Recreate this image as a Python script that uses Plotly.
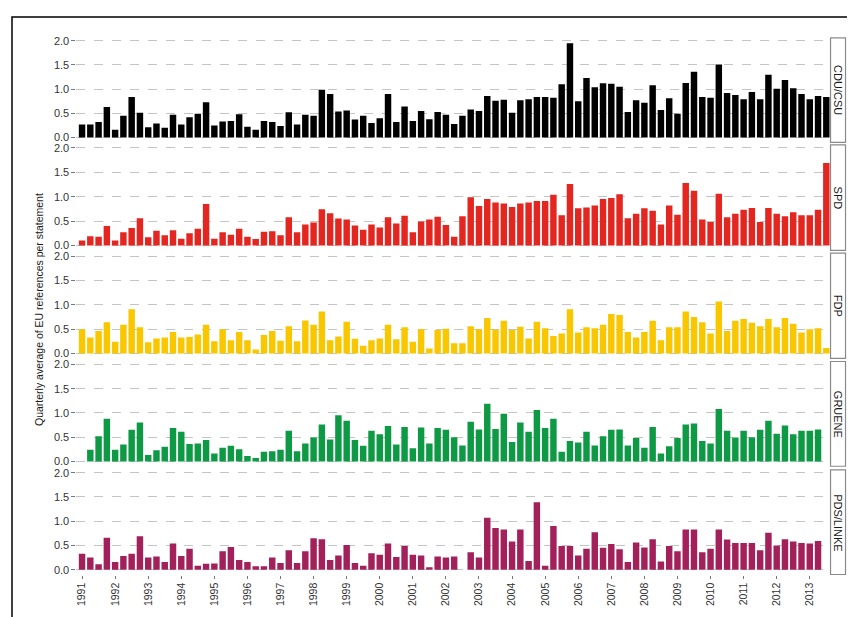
import plotly.graph_objects as go

years = list(range(1991, 2014))
quarters = [f"{y} Q{q}" for y in years for q in range(1, 5)][:91]  # 1991 Q1 .. 2013 Q3

parties = ["CDU/CSU", "SPD", "FDP", "GRUENE", "PDS/LINKE"]
colors = ["#000000", "#e3261f", "#f8c700", "#0e9a45", "#a3215a"]

cdu = [0.27, 0.27, 0.32, 0.63, 0.16, 0.45, 0.84, 0.51, 0.21, 0.29,
       0.20, 0.47, 0.27, 0.42, 0.49, 0.73, 0.25, 0.33, 0.34, 0.48,
       0.22, 0.16, 0.34, 0.32, 0.24, 0.52, 0.27, 0.47, 0.45, 0.99,
       0.90, 0.54, 0.56, 0.37, 0.45, 0.30, 0.40, 0.90, 0.32, 0.64,
       0.34, 0.55, 0.38, 0.53, 0.47, 0.28, 0.45, 0.58, 0.55, 0.86,
       0.76, 0.78, 0.51, 0.77, 0.79, 0.84, 0.84, 0.82, 1.10, 1.95,
       0.75, 1.23, 1.04, 1.12, 1.11, 1.05, 0.53, 0.77, 0.72, 1.08,
       0.57, 0.81, 0.49, 1.13, 1.36, 0.84, 0.82, 1.51, 0.92, 0.88,
       0.79, 0.94, 0.79, 1.30, 1.01, 1.19, 1.02, 0.90, 0.79, 0.86,
       0.84]

spd = [0.10, 0.19, 0.18, 0.40, 0.10, 0.27, 0.36, 0.56, 0.17, 0.30,
       0.21, 0.31, 0.14, 0.25, 0.34, 0.85, 0.14, 0.27, 0.22, 0.34,
       0.18, 0.13, 0.28, 0.29, 0.21, 0.58, 0.27, 0.43, 0.47, 0.74,
       0.66, 0.55, 0.53, 0.41, 0.32, 0.43, 0.37, 0.58, 0.45, 0.61,
       0.27, 0.49, 0.53, 0.59, 0.42, 0.18, 0.60, 0.99, 0.81, 0.95,
       0.88, 0.86, 0.79, 0.86, 0.88, 0.91, 0.91, 1.04, 0.62, 1.26,
       0.76, 0.78, 0.82, 0.95, 0.97, 1.05, 0.56, 0.65, 0.76, 0.71,
       0.43, 0.82, 0.63, 1.28, 1.12, 0.53, 0.48, 1.06, 0.58, 0.65,
       0.73, 0.77, 0.48, 0.77, 0.65, 0.60, 0.68, 0.62, 0.62, 0.73,
       1.69]

fdp = [0.50, 0.33, 0.46, 0.64, 0.24, 0.59, 0.91, 0.54, 0.23, 0.31,
       0.33, 0.44, 0.33, 0.34, 0.39, 0.59, 0.25, 0.50, 0.27, 0.44,
       0.27, 0.08, 0.38, 0.46, 0.26, 0.56, 0.25, 0.68, 0.59, 0.86,
       0.27, 0.35, 0.65, 0.30, 0.16, 0.27, 0.31, 0.59, 0.29, 0.54,
       0.24, 0.50, 0.10, 0.48, 0.51, 0.21, 0.21, 0.56, 0.50, 0.73,
       0.49, 0.67, 0.48, 0.55, 0.31, 0.65, 0.52, 0.36, 0.41, 0.91,
       0.43, 0.54, 0.52, 0.59, 0.81, 0.79, 0.44, 0.33, 0.44, 0.67,
       0.27, 0.54, 0.54, 0.86, 0.75, 0.64, 0.41, 1.07, 0.46, 0.67,
       0.71, 0.63, 0.56, 0.71, 0.54, 0.73, 0.61, 0.43, 0.50, 0.52,
       0.11]

gruene = [None, 0.24, 0.52, 0.88, 0.24, 0.35, 0.65, 0.80, 0.13, 0.23,
          0.30, 0.69, 0.61, 0.36, 0.37, 0.44, 0.16, 0.28, 0.32, 0.25,
          0.11, 0.07, 0.20, 0.21, 0.24, 0.63, 0.21, 0.37, 0.49, 0.76,
          0.45, 0.95, 0.84, 0.44, 0.32, 0.63, 0.56, 0.73, 0.35, 0.71,
          0.27, 0.70, 0.37, 0.69, 0.65, 0.50, 0.33, 0.82, 0.66, 1.19,
          0.67, 0.98, 0.40, 0.80, 0.61, 1.06, 0.69, 0.88, 0.20, 0.42,
          0.39, 0.61, 0.33, 0.52, 0.65, 0.66, 0.33, 0.48, 0.28, 0.71,
          0.16, 0.31, 0.48, 0.76, 0.78, 0.42, 0.37, 1.08, 0.63, 0.49,
          0.63, 0.50, 0.65, 0.84, 0.57, 0.74, 0.56, 0.63, 0.63, 0.66,
          None]

pds = [0.33, 0.25, 0.11, 0.66, 0.16, 0.28, 0.33, 0.69, 0.25, 0.27,
       0.16, 0.54, 0.28, 0.43, 0.08, 0.12, 0.13, 0.38, 0.47, 0.20,
       0.16, 0.07, 0.07, 0.25, 0.14, 0.40, 0.14, 0.38, 0.65, 0.63,
       0.20, 0.29, 0.51, 0.14, 0.08, 0.34, 0.31, 0.54, 0.26, 0.49,
       0.31, 0.29, 0.05, 0.27, 0.25, 0.27, None, 0.36, 0.25, 1.07,
       0.86, 0.83, 0.58, 0.83, 0.18, 1.39, 0.08, 0.90, 0.49, 0.49,
       0.29, 0.43, 0.77, 0.45, 0.53, 0.42, 0.16, 0.56, 0.46, 0.63,
       0.17, 0.49, 0.38, 0.83, 0.83, 0.36, 0.43, 0.83, 0.62, 0.55,
       0.55, 0.55, 0.40, 0.76, 0.50, 0.63, 0.58, 0.55, 0.54, 0.59,
       None]

series = [cdu, spd, fdp, gruene, pds]
y_ticks = [0.0, 0.5, 1.0, 1.5, 2.0]
y_tick_text = ["0.0", "0.5", "1.0", "1.5", "2.0"]
year_tickvals = [f"{y} Q1" for y in years]
year_ticktext = [str(y) for y in years]

W, H = 855, 617
FONT = "Liberation Sans, Arial, sans-serif"

# panel vertical extents in pixels (top, bottom)
panels_px = [(27.1, 132.2), (134.8, 240.9), (243.8, 349.6), (352.8, 458.2), (461.8, 567.2)]
x_left_px, x_right_px = 67.5, 822.0
strip_x0, strip_x1 = 822.5, 837.5

fig = go.Figure()
layout = dict(
    width=W, height=H,
    margin=dict(l=0, r=0, t=0, b=0),
    paper_bgcolor="white", plot_bgcolor="white",
    showlegend=False, bargap=0.22,
    font=dict(family=FONT, color="#333333"),
)

shapes = []
annotations = []
for k, (name, vals, col) in enumerate(zip(parties, series, colors)):
    ax = "" if k == 0 else str(k + 1)
    fig.add_trace(go.Bar(
        x=quarters, y=vals, name=name,
        marker=dict(color=col, line=dict(width=0)),
        xaxis="x", yaxis="y" + ax,
    ))
    top, bot = panels_px[k]
    dom = [1 - bot / H, 1 - top / H]
    layout["yaxis" + ax] = dict(
        domain=dom, range=[-0.1, 2.06], anchor="x",
        tickvals=y_ticks, ticktext=y_tick_text,
        showgrid=True, gridcolor="#c4c4c4", griddash="dash", gridwidth=1,
        zeroline=False, showline=False,
        ticks="outside", ticklen=4, tickcolor="#777777",
        tickfont=dict(size=11, color="#333333", family=FONT),
        fixedrange=True,
    )
    shapes.append(dict(type="rect", xref="paper", yref="paper",
                       x0=strip_x0 / W, x1=strip_x1 / W, y0=dom[0], y1=dom[1],
                       line=dict(color="#8a8a8a", width=1.2), fillcolor="white"))
    annotations.append(dict(text=name, xref="paper", yref="paper",
                            x=(strip_x0 + strip_x1) / 2 / W, y=(dom[0] + dom[1]) / 2,
                            showarrow=False, textangle=90,
                            font=dict(size=11, color="#1a1a1a", family=FONT),
                            xanchor="center", yanchor="middle"))

layout["xaxis"] = dict(
    domain=[x_left_px / W, x_right_px / W],
    type="category", categoryorder="array", categoryarray=quarters,
    range=[-0.68, 90.45], anchor="y5",
    tickvals=year_tickvals, ticktext=year_ticktext, tickangle=-90,
    ticks="outside", ticklen=3, tickcolor="#777777",
    tickfont=dict(size=10.5, color="#333333", family=FONT),
    showgrid=False, zeroline=False, showline=False, fixedrange=True,
)

annotations.append(dict(text="Quarterly average of EU references per statement",
                        xref="paper", yref="paper", x=30 / W, y=1 - 300 / H,
                        showarrow=False, textangle=-90,
                        font=dict(size=10.5, color="#1a1a1a", family=FONT),
                        xanchor="center", yanchor="middle"))

shapes.append(dict(type="rect", xref="paper", yref="paper",
                   x0=3 / W, x1=849 / W, y0=-0.02, y1=1 - 6 / H,
                   line=dict(color="black", width=1.5), fillcolor="rgba(0,0,0,0)", layer="below"))

layout["shapes"] = shapes
layout["annotations"] = annotations
fig.update_layout(**layout)

fig.write_html("out.html")
